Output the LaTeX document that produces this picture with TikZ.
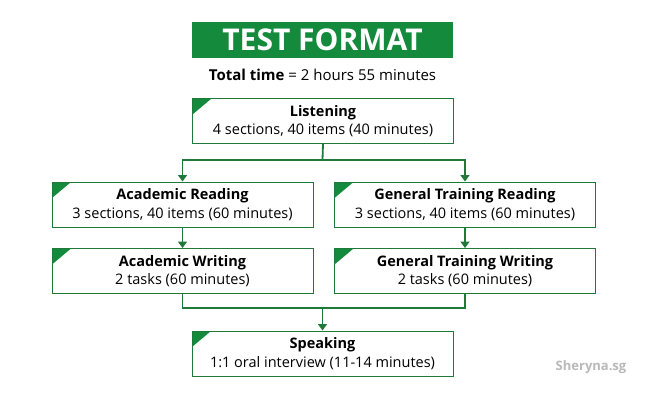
\documentclass[tikz,border=0pt]{standalone}
\usepackage{fontspec}
\setmainfont{Open Sans}
\usetikzlibrary{arrows.meta}
\definecolor{tgreen}{HTML}{148A3C}
\definecolor{bgreen}{HTML}{1F7A3A}
\begin{document}
\begin{tikzpicture}[x=1pt,y=-1pt,
  box/.style={draw=bgreen, line width=1pt, minimum width=261pt, minimum height=45pt, inner sep=0pt, align=center,
    font=\fontsize{14.5}{18.5}\selectfont,
    path picture={\fill[tgreen] (path picture bounding box.north west) -- ++(19pt,0pt) -- ++(-19pt,-16pt) -- cycle;}},
  conn/.style={draw=bgreen, line width=1.8pt},
  arr/.style={conn, -{Triangle[width=9pt,length=6.5pt]}}]
\useasboundingbox[fill=white] (0,0) rectangle (647,400);
\node[fill=tgreen, minimum width=261pt, minimum height=36pt, inner sep=0pt, text=white, font=\fontsize{30}{32}\selectfont\bfseries] (title) at (322.5,40) {TEST FORMAT};
\node[font=\fontsize{15}{18}\selectfont] (total) at (322.5,75) {\textbf{Total time} = 2 hours 55 minutes};
\node[box] (L) at (323,121) {\textbf{Listening}\\4 sections, 40 items (40 minutes)};
\node[box] (AR) at (182.5,204.5) {\textbf{Academic Reading}\\3 sections, 40 items (60 minutes)};
\node[box] (GR) at (465,204.5) {\textbf{General Training Reading}\\3 sections, 40 items (60 minutes)};
\node[box] (AW) at (182.5,271) {\textbf{Academic Writing}\\2 tasks (60 minutes)};
\node[box] (GW) at (465,271) {\textbf{General Training Writing}\\2 tasks (60 minutes)};
\node[box] (S) at (322.5,353.5) {\textbf{Speaking}\\1:1 oral interview (11-14 minutes)};
\coordinate (j1) at (322.5,160);
\coordinate (j2) at (322.5,308);
\draw[conn] (L.south) -- (j1);
\draw[arr] (j1) -| (AR.north);
\draw[arr] (j1) -| (GR.north);
\draw[arr] (AR.south) -- (AW.north);
\draw[arr] (GR.south) -- (GW.north);
\draw[conn] (AW.south) |- (j2) -| (GW.south);
\draw[arr] (j2) -- (S.north);
\node[text=gray!55, font=\fontsize{13}{15}\selectfont\bfseries] (wm) at (591,367) {Sheryna.sg};
\end{tikzpicture}
\end{document}
